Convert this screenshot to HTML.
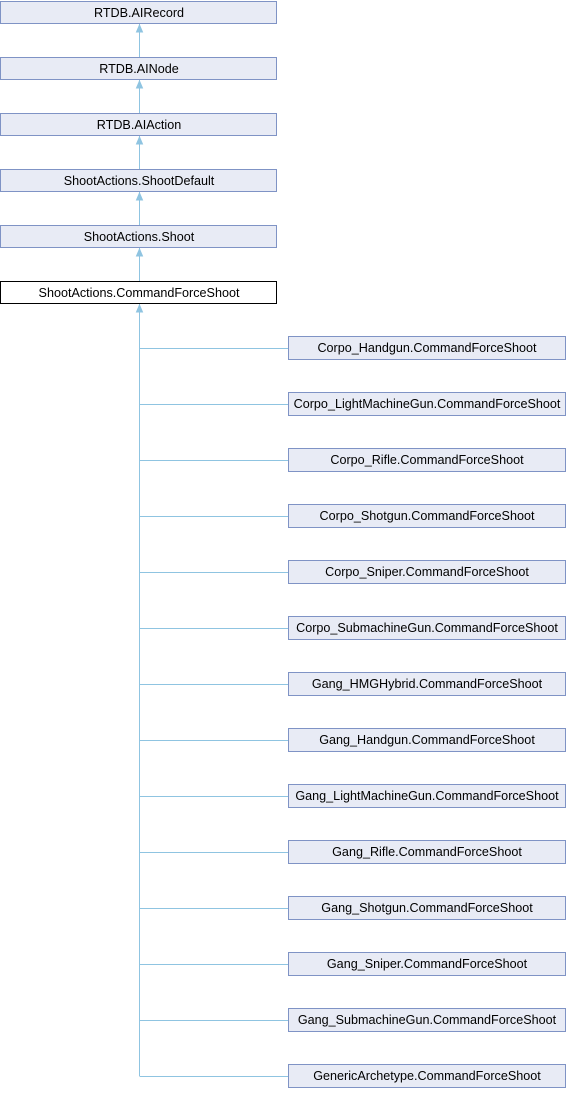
<!DOCTYPE html>
<html><head><meta charset="utf-8"><style>
body{margin:0;background:#fff;}
svg text{font-family:"Liberation Sans",Arial,sans-serif;font-size:12.6px;fill:#000;}
</style></head><body>
<svg width="566" height="1088" xmlns="http://www.w3.org/2000/svg">
<g stroke="#8fc4e1" fill="none" stroke-width="1">
<line x1="139.5" y1="24" x2="139.5" y2="57"/>
<line x1="139.5" y1="80" x2="139.5" y2="113"/>
<line x1="139.5" y1="136" x2="139.5" y2="169"/>
<line x1="139.5" y1="192" x2="139.5" y2="225"/>
<line x1="139.5" y1="248" x2="139.5" y2="281"/>
<line x1="139.5" y1="304" x2="139.5" y2="1076"/>
</g>
<g fill="#8fc4e1" stroke="#8fc4e1">
<path d="M139.5 25 l-3 7 h6 z"/><path d="M139.5 81 l-3 7 h6 z"/><path d="M139.5 137 l-3 7 h6 z"/><path d="M139.5 193 l-3 7 h6 z"/><path d="M139.5 249 l-3 7 h6 z"/><path d="M139.5 305 l-3 7 h6 z"/>
</g>
<g id="top" stroke="#7f93c5" fill="#e8ebf5">
<rect x="0.5" y="1.5" width="276" height="22"/>
<rect x="0.5" y="57.5" width="276" height="22"/>
<rect x="0.5" y="113.5" width="276" height="22"/>
<rect x="0.5" y="169.5" width="276" height="22"/>
<rect x="0.5" y="225.5" width="276" height="22"/>
<rect x="0.5" y="281.5" width="276" height="22" fill="#fff" stroke="#000"/>
</g>
<g text-anchor="middle">
<text x="139" y="17">RTDB.AIRecord</text>
<text x="139" y="73">RTDB.AINode</text>
<text x="139" y="129">RTDB.AIAction</text>
<text x="139" y="185">ShootActions.ShootDefault</text>
<text x="139" y="241">ShootActions.Shoot</text>
<text x="139" y="297">ShootActions.CommandForceShoot</text>
</g>
<g id="kids"></g>
</svg>
<script>
var names=["Corpo_Handgun","Corpo_LightMachineGun","Corpo_Rifle","Corpo_Shotgun","Corpo_Sniper","Corpo_SubmachineGun","Gang_HMGHybrid","Gang_Handgun","Gang_LightMachineGun","Gang_Rifle","Gang_Shotgun","Gang_Sniper","Gang_SubmachineGun","GenericArchetype"];
var g=document.getElementById("kids"),s="";
names.forEach(function(n,i){var y=336+i*56;
s+='<line x1="139.5" y1="'+(y+12.5)+'" x2="288" y2="'+(y+12.5)+'" stroke="#8fc4e1"/>';
s+='<rect x="288.5" y="'+(y+0.5)+'" width="277" height="23" fill="#e8ebf5" stroke="#7f93c5"/>';
s+='<text x="427" y="'+(y+16)+'" text-anchor="middle">'+n+'.CommandForceShoot</text>';});
g.innerHTML=s;
</script>
</body></html>
